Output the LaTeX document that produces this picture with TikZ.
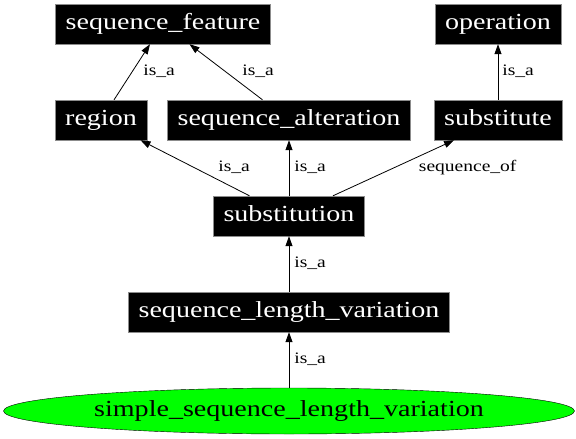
\documentclass[tikz,border=0pt]{standalone}
\usepackage{fontspec}
\usetikzlibrary{arrows.meta,positioning,shapes.geometric}
\newfontfamily\dotfont[FakeStretch=1.22]{Liberation Serif}

\begin{document}
\begin{tikzpicture}[x=1pt,y=-1pt]
        \useasboundingbox (0,0) rectangle (576,439);

        \begin{scope}[every node/.style={rectangle,fill=black,draw=black!45,line width=.4pt,text=white,
            inner xsep=10pt,inner ysep=0pt,minimum height=40pt,text height=16pt,text depth=5pt,
            font=\dotfont\fontsize{23}{26}\selectfont}]
          \node (feature)      at (163,24)  {sequence\_feature};
          \node (operation)    at (498,24)  {operation};
          \node (region)       at (101,120) {region};
          \node (alteration)   at (289,120) {sequence\_alteration};
          \node (substitute)   at (498,120) {substitute};
          \node (substitution) at (289,216) {substitution};
          \node (lengthvar)    at (289,312) {sequence\_length\_variation};
        \end{scope}

        \node[ellipse,draw,fill=green,inner sep=0pt,minimum width=571pt,minimum height=46pt,
          text height=16pt,text depth=5pt,
          font=\dotfont\fontsize{23}{26}\selectfont] (simple) at (289,411) {simple\_sequence\_length\_variation};

        \begin{scope}[every node/.style={inner sep=0pt,text height=11pt,text depth=4pt,
            font=\dotfont\fontsize{16}{18}\selectfont}]

          \begin{scope}[every edge/.style={draw,line width=.8pt,-{Triangle[length=10pt,width=7pt]}}]
            \path (region)       edge node[right=11pt] {is\_a} (feature);
            \path (alteration)   edge node[right=16pt] {is\_a} (feature);
            \path (substitute)   edge node[right=4pt]  {is\_a} (operation);
            \path (substitution) edge node[right=23pt] {is\_a} (region);
            \path (substitution) edge node[right=5pt]  {is\_a} (alteration);
            \path (substitution) edge node[right=25pt] {sequence\_of} (substitute);
            \path (lengthvar)    edge node[right=5pt]  {is\_a} (substitution);
            \path (simple)       edge node[right=5pt]  {is\_a} (lengthvar);
          \end{scope}
        \end{scope}

      \end{tikzpicture}
\end{document}
